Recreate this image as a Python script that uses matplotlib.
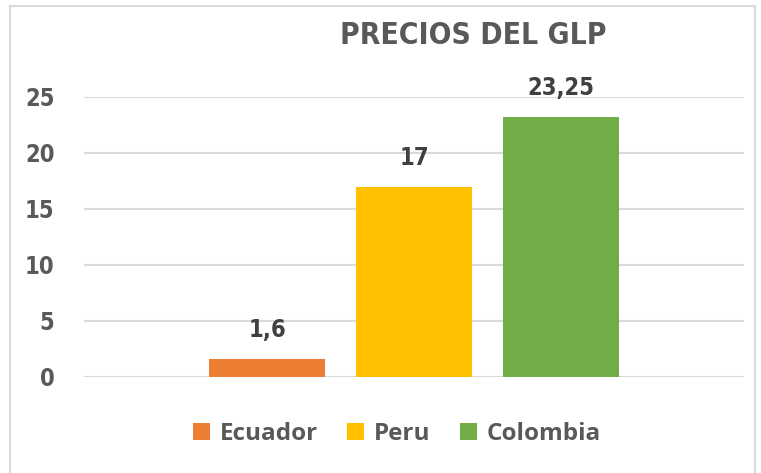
import matplotlib
matplotlib.use("Agg")
import matplotlib.pyplot as plt
from matplotlib.patches import Rectangle

countries = ["Ecuador", "Peru", "Colombia"]
prices = [1.6, 17, 23.25]
colors = ["#ED7D31", "#FFC000", "#70AD47"]
yticks = [0, 5, 10, 15, 20, 25]

narrow = ["DejaVu Sans"]
text_gray = "#595959"

fig = plt.figure(figsize=(7.61, 4.73), dpi=100)
ax = fig.add_axes([0.110, 0.203, 0.868, 0.592])

# outer chart border
fig.patches.append(Rectangle((10 / 761, -0.05), 745 / 761, 1 - 6 / 473 + 0.05,
                             transform=fig.transFigure, fill=False,
                             edgecolor="#D9D9D9", lw=1.5))

xs = [-1, 0, 1]
bars = ax.bar(xs, prices, width=0.79, color=colors, label=countries, zorder=3)

for x, v in zip(xs, prices):
    ax.annotate(f"{v:g}".replace(".", ","), (x, v), xytext=(0, 12),
                textcoords="offset points", ha="center", va="bottom",
                fontsize=17, fontweight="bold", fontstretch="condensed",
                color="#404040", family=narrow)

ax.set_xlim(-2.25, 2.25)
ax.set_ylim(0, 25)
ax.set_yticks(yticks)
ax.set_yticklabels([str(t) for t in yticks], fontsize=17, fontweight="bold",
                   fontstretch="condensed", color=text_gray, family=narrow)
ax.set_xticks([])
ax.tick_params(axis="y", length=0, pad=21)
ax.grid(axis="y", color="#D9D9D9", lw=1.5, zorder=0)
for s in ax.spines.values():
    s.set_visible(False)

fig.text(473 / 761, 1 - 35 / 473, "PRECIOS DEL GLP", ha="center", va="center",
         fontsize=21.5, fontweight="bold", fontstretch="condensed",
         color=text_gray, family=narrow)

fig.legend(handles=list(bars), labels=countries, loc="center",
           bbox_to_anchor=(397 / 761, 1 - 434 / 473), ncol=3, frameon=False,
           prop={"family": "Open Sans", "weight": "bold", "size": 17.5},
           labelcolor=text_gray, handlelength=0.7, handleheight=0.7,
           handletextpad=0.4, columnspacing=1.2)

fig.savefig("out.png", dpi=100)
